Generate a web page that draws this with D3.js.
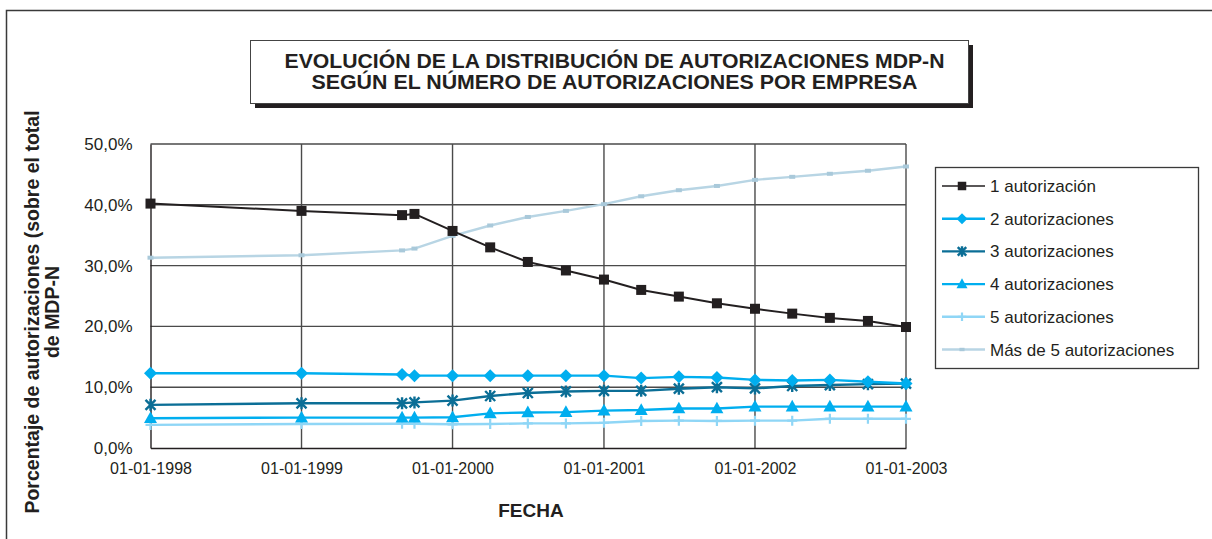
<!DOCTYPE html>
<html>
<head>
<meta charset="utf-8">
<script src="https://cdn.jsdelivr.net/npm/d3@7"></script>
<style>
  html, body { margin: 0; padding: 0; background: #fff; }
  svg { display: block; font-family: "Liberation Sans", Arial, sans-serif; }
</style>
</head>
<body>
<svg id="chart" width="1212" height="539"></svg>
<script>
// ---------- data ----------
const dates = ["1998-01-01","1999-01-01","1999-09-01","1999-10-01","2000-01-01","2000-04-01","2000-07-01","2000-10-01",
               "2001-01-01","2001-04-01","2001-07-01","2001-10-01","2002-01-01","2002-04-01","2002-07-01","2002-10-01","2003-01-01"];
const seriesNames = ["1 autorización","2 autorizaciones","3 autorizaciones","4 autorizaciones","5 autorizaciones","Más de 5 autorizaciones"];
const aut1 = [40.2, 39.0, 38.3, 38.5, 35.7, 33.0, 30.6, 29.2, 27.7, 26.0, 24.9, 23.8, 22.9, 22.1, 21.4, 20.9, 19.9];
const aut2 = [12.3, 12.3, 12.1, 11.9, 11.9, 11.9, 11.9, 11.9, 11.9, 11.5, 11.7, 11.6, 11.2, 11.1, 11.2, 10.9, 10.6];
const aut3 = [7.1, 7.35, 7.35, 7.5, 7.8, 8.55, 9.05, 9.3, 9.4, 9.4, 9.75, 10.0, 9.8, 10.2, 10.35, 10.5, 10.6];
const aut4 = [4.9, 5.0, 5.0, 5.0, 5.05, 5.7, 5.85, 5.9, 6.15, 6.25, 6.5, 6.5, 6.8, 6.8, 6.8, 6.8, 6.8];
const aut5 = [3.8, 3.95, 4.0, 4.0, 3.9, 3.95, 4.05, 4.05, 4.15, 4.45, 4.5, 4.45, 4.5, 4.5, 4.8, 4.8, 4.8];
const autMas5 = [31.3, 31.7, 32.5, 32.8, 34.9, 36.6, 38.0, 39.0, 40.1, 41.4, 42.4, 43.1, 44.1, 44.6, 45.1, 45.6, 46.3];
const xTickLabels = ["1998-01-01","1999-01-01","2000-01-01","2001-01-01","2002-01-01","2003-01-01"];
const yTickValues = [0, 10, 20, 30, 40, 50];
const titleLines = ["EVOLUCIÓN DE LA DISTRIBUCIÓN DE AUTORIZACIONES MDP-N", "SEGÚN EL NÚMERO DE AUTORIZACIONES POR EMPRESA"];
const yTitleLines = ["Porcentaje de autorizaciones (sobre el total", "de MDP-N"];
const xTitle = "FECHA";

// ---------- setup ----------
const svg = d3.select("#chart");
const parse = d3.utcParse("%Y-%m-%d");
const X0 = 150.5, X1 = 906, Y0 = 448, Y1 = 144;
const x = d3.scaleUtc().domain([parse(xTickLabels[0]), parse(xTickLabels[xTickLabels.length - 1])]).range([X0, X1]);
const y = d3.scaleLinear().domain([0, 50]).range([Y0, Y1]);

const styles = [
  { color: "#231f20", marker: "square" },
  { color: "#00aeef", marker: "diamond" },
  { color: "#0b6e96", marker: "star" },
  { color: "#00aeef", marker: "triangle" },
  { color: "#8fd6f6", marker: "plus" },
  { color: "#b8d5e4", marker: "dash" }
];
const allValues = [aut1, aut2, aut3, aut4, aut5, autMas5];
const series = seriesNames.map((n, i) => ({
  name: n, style: styles[i],
  points: dates.map((d, j) => ({ date: parse(d), value: allValues[i][j] }))
}));

// outer frame
svg.append("path").attr("d", "M6.5,539 V10.5 H1212").attr("fill", "none").attr("stroke", "#3a3a3a").attr("stroke-width", 1.5);

// title box
svg.append("rect").attr("x", 255).attr("y", 45).attr("width", 718).attr("height", 63).attr("fill", "#231f20");
svg.append("rect").attr("x", 250.5).attr("y", 40.5).attr("width", 718).attr("height", 63).attr("fill", "#fff").attr("stroke", "#444").attr("stroke-width", 1);
const titleWidths = [660, 606];
titleLines.forEach((t, i) => {
  svg.append("text").attr("x", 614.5).attr("y", 68 + i * 21).attr("text-anchor", "middle")
    .attr("font-size", 19.5).attr("font-weight", "bold").attr("fill", "#231f20")
    .attr("textLength", titleWidths[i]).attr("lengthAdjust", "spacingAndGlyphs").text(t);
});

// gridlines
const g = svg.append("g");
g.selectAll("line.hg").data(yTickValues.filter(v => v > 0)).join("line")
  .attr("x1", X0).attr("x2", X1).attr("y1", d => y(d)).attr("y2", d => y(d))
  .attr("stroke", "#4a4a4a").attr("stroke-width", 1.4);
g.selectAll("line.vg").data(xTickLabels.slice(1)).join("line")
  .attr("x1", d => x(parse(d))).attr("x2", d => x(parse(d))).attr("y1", Y0).attr("y2", Y1)
  .attr("stroke", "#4a4a4a").attr("stroke-width", 1.4);

// axes
const yAxis = d3.axisLeft(y).tickValues(yTickValues).tickSize(0).tickPadding(18)
  .tickFormat(d => d3.format(".1f")(d).replace(".", ",") + "%");
const ya = svg.append("g").attr("transform", `translate(${X0},0)`).call(yAxis);
ya.select(".domain").attr("stroke", "#231f20").attr("stroke-width", 1.4);
ya.selectAll("text").attr("font-size", 17).attr("fill", "#231f20").attr("font-family", "Liberation Sans, Arial, sans-serif");

const xAxis = d3.axisBottom(x).tickValues(xTickLabels.map(parse)).tickSize(0).tickPadding(15)
  .tickFormat(d3.utcFormat("%d-%m-%Y"));
const xa = svg.append("g").attr("transform", `translate(0,${Y0})`).call(xAxis);
xa.select(".domain").attr("stroke", "#231f20").attr("stroke-width", 1.4);
xa.selectAll("text").attr("font-size", 16).attr("fill", "#231f20").attr("font-family", "Liberation Sans, Arial, sans-serif");

// axis titles
svg.append("text").attr("x", 531).attr("y", 517).attr("text-anchor", "middle")
  .attr("font-size", 19).attr("font-weight", "bold").attr("fill", "#231f20").text(xTitle);
yTitleLines.forEach((t, i) => {
  svg.append("text").attr("transform", `translate(${39 + i * 20},312) rotate(-90)`).attr("text-anchor", "middle")
    .attr("font-size", 19.5).attr("font-weight", "bold").attr("fill", "#231f20").text(t);
});

// markers
function drawMarker(sel, type, color, cx, cy, scale) {
  const s = scale || 1;
  if (type === "square") {
    sel.append("rect").attr("x", cx - 5 * s).attr("y", cy - 5 * s).attr("width", 10 * s).attr("height", 10 * s).attr("fill", color);
  } else if (type === "diamond") {
    const r = 6.5 * s;
    sel.append("path").attr("d", `M${cx},${cy - r}L${cx + r},${cy}L${cx},${cy + r}L${cx - r},${cy}Z`).attr("fill", color);
  } else if (type === "triangle") {
    const r = 6.5 * s;
    sel.append("path").attr("d", `M${cx},${cy - r * 1.05}L${cx + r},${cy + r * 0.75}L${cx - r},${cy + r * 0.75}Z`).attr("fill", color);
  } else if (type === "star") {
    const r = 5 * s;
    sel.append("path").attr("d", `M${cx - r},${cy - r}L${cx + r},${cy + r}M${cx - r},${cy + r}L${cx + r},${cy - r}M${cx},${cy - r - 1}L${cx},${cy + r + 1}`)
      .attr("stroke", color).attr("stroke-width", 2.4).attr("fill", "none");
  } else if (type === "plus") {
    const r = 5 * s;
    sel.append("path").attr("d", `M${cx - r},${cy}L${cx + r},${cy}M${cx},${cy - r}L${cx},${cy + r}`)
      .attr("stroke", color).attr("stroke-width", 2.2).attr("fill", "none");
  } else if (type === "dash") {
    sel.append("rect").attr("x", cx - 3 * s).attr("y", cy - 2 * s).attr("width", 6 * s).attr("height", 4 * s).attr("fill", "#a9c9da");
  }
}

const line = d3.line().x(d => x(d.date)).y(d => y(d.value));
const order = [5, 0, 4, 3, 2, 1];
order.forEach(i => {
  const s = series[i];
  const gs = svg.append("g");
  gs.append("path").datum(s.points).attr("d", line).attr("fill", "none")
    .attr("stroke", s.style.color).attr("stroke-width", i === 0 ? 2 : 2.4).attr("stroke-linejoin", "round");
  s.points.forEach(p => drawMarker(gs, s.style.marker, s.style.color, x(p.date), y(p.value)));
});

// legend
const lg = svg.append("g");
lg.append("rect").attr("x", 935.5).attr("y", 167.5).attr("width", 263).attr("height", 201)
  .attr("fill", "#fff").attr("stroke", "#3a3a3a").attr("stroke-width", 1.3);
series.forEach((s, i) => {
  const cy = 186 + i * 32.7;
  lg.append("line").attr("x1", 942).attr("x2", 985).attr("y1", cy).attr("y2", cy)
    .attr("stroke", s.style.color).attr("stroke-width", i === 0 ? 1.6 : 2.4);
  drawMarker(lg, s.style.marker, s.style.color, 962, cy, 0.85);
  lg.append("text").attr("x", 990).attr("y", cy + 6).attr("font-size", 17).attr("fill", "#231f20").text(s.name);
});
</script>
</body>
</html>
